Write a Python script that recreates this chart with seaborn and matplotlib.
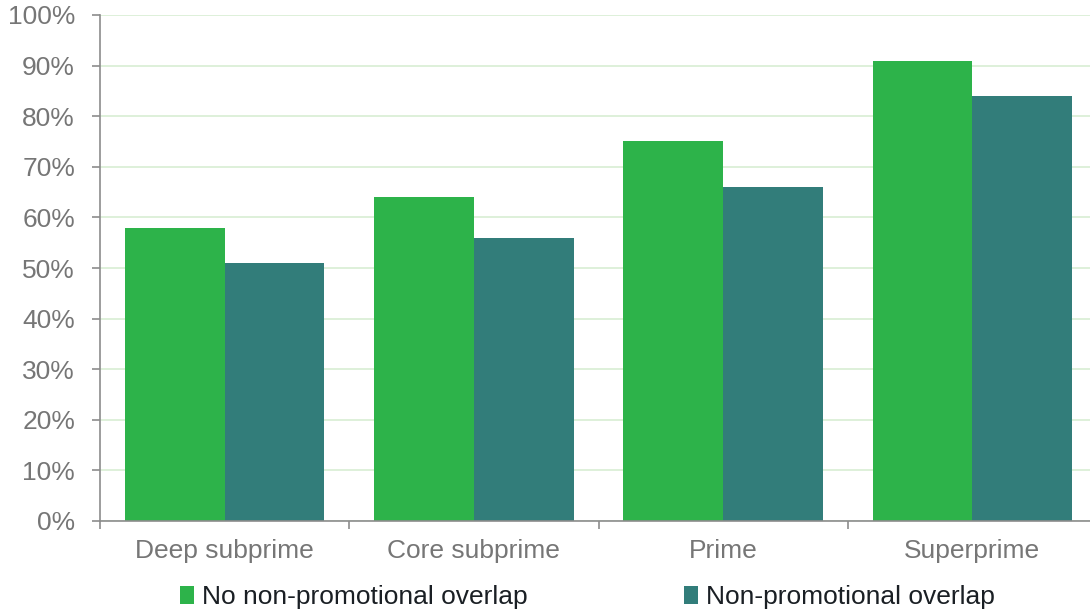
import matplotlib
matplotlib.use("Agg")
import matplotlib.pyplot as plt
import seaborn as sns
import pandas as pd
from matplotlib.ticker import FixedLocator, PercentFormatter
from matplotlib.patches import Patch

categories = ["Deep subprime", "Core subprime", "Prime", "Superprime"]
no_overlap = [58, 64, 75, 91]
overlap = [51, 56, 66, 84]
series_names = ["No non-promotional overlap", "Non-promotional overlap"]
colors = ["#2DB34A", "#327D7A"]

df = pd.DataFrame({
    "category": categories * 2,
    "value": no_overlap + overlap,
    "series": [series_names[0]] * 4 + [series_names[1]] * 4,
})

sns.set_style("white")
plt.rcParams["font.family"] = ["Liberation Sans", "DejaVu Sans"]

fig = plt.figure(figsize=(10.9, 6.15), dpi=100)
ax = fig.add_axes([100 / 1090, 94 / 615, 997 / 1090, 506 / 615])

sns.barplot(data=df, x="category", y="value", hue="series", palette=colors,
            width=0.8, saturation=1, ax=ax, legend=False, errorbar=None,
            linewidth=0)

ax.set_xlim(-0.5, 3.5)
ax.set_ylim(0, 100)
ax.set_yticks(range(0, 101, 10))
ax.yaxis.set_major_formatter(PercentFormatter(decimals=0))
ax.grid(axis="y", color="#D8EDD3", linewidth=1.2)
ax.set_axisbelow(True)
ax.set_xlabel("")
ax.set_ylabel("")

for s in ["top", "right"]:
    ax.spines[s].set_visible(False)
for s in ["left", "bottom"]:
    ax.spines[s].set_color("#8C8C8C")
    ax.spines[s].set_linewidth(1.2)

ax.tick_params(axis="y", which="major", length=6, width=1.2, color="#8C8C8C",
               labelsize=19, labelcolor="#767676", pad=12, left=True)
ax.tick_params(axis="x", which="major", length=0, labelsize=19,
               labelcolor="#767676", pad=13, bottom=True)
ax.xaxis.set_minor_locator(FixedLocator([-0.5, 0.5, 1.5, 2.5, 3.5]))
ax.tick_params(axis="x", which="minor", length=6, width=1.2, color="#8C8C8C",
               bottom=True)

handles = [Patch(facecolor=c, edgecolor="none") for c in colors]
fig.legend(handles, series_names, loc="center", bbox_to_anchor=(0.539, 0.029),
           ncol=2, frameon=False, fontsize=19, handlelength=0.55,
           handleheight=0.7, handletextpad=0.3, columnspacing=5.9,
           labelcolor="#1A1F24")

fig.savefig("out.png", dpi=100)
